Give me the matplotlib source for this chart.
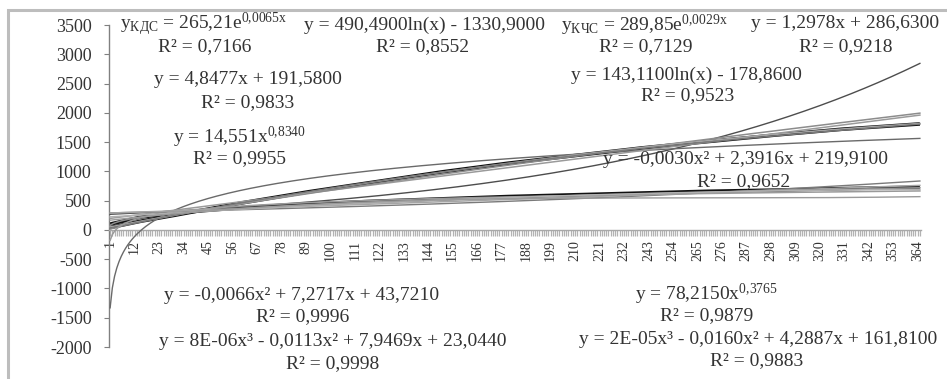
import numpy as np
import matplotlib
matplotlib.use("Agg")
import matplotlib.pyplot as plt
from matplotlib.patches import Rectangle

plt.rcParams["font.family"] = ["Liberation Serif", "DejaVu Serif"]
plt.rcParams["axes.unicode_minus"] = False
plt.rcParams["mathtext.fontset"] = "custom"
plt.rcParams["mathtext.rm"] = "Liberation Serif"

# ---- data -------------------------------------------------------------
days = np.arange(1, 366)

# cumulative observed series, sampled through the year
obs_days = [1, 15, 30, 60, 90, 120, 150, 180, 210, 240, 270, 300, 330, 365]
kds_values = [40, 150, 250, 460, 650, 820, 990, 1140, 1270, 1400, 1510, 1620, 1720, 1810]
kchs_values = [100, 220, 290, 380, 440, 490, 530, 570, 600, 630, 660, 680, 705, 730]

# trend line coefficients (КДС group)
kds_exp = [265.21, 0.0065]
kds_log = [490.49, -1330.9]
kds_lin = [4.8477, 191.58]
kds_pow = [14.551, 0.8340]
kds_poly2 = [-0.0066, 7.2717, 43.721]
kds_poly3 = [8e-06, -0.0113, 7.9469, 23.044]

# trend line coefficients (КЧС group)
kchs_exp = [289.85, 0.0029]
kchs_log = [143.11, -178.86]
kchs_lin = [1.2978, 286.63]
kchs_pow = [78.215, 0.3765]
kchs_poly2 = [-0.0030, 2.3916, 219.91]
kchs_poly3 = [2e-05, -0.0160, 4.2887, 161.81]

x_tick_labels = list(range(1, 366, 11))
y_ticks = list(range(-2000, 3501, 500))


def f_exp(c, x):
    return c[0] * np.exp(c[1] * x)


def f_log(c, x):
    return c[0] * np.log(x) + c[1]


def f_lin(c, x):
    return c[0] * x + c[1]


def f_pow(c, x):
    return c[0] * x ** c[1]


def f_poly(c, x):
    return np.polyval(c, x)


# ---- figure -----------------------------------------------------------
W, H = 947, 379
fig = plt.figure(figsize=(W / 100, H / 100), dpi=100)
fig.patch.set_facecolor("white")

# chart area border
fig.patches.append(Rectangle((8 / W, -0.1), 1.2, 1 - 10 / H + 0.1,
                             transform=fig.transFigure, fill=False,
                             ec="#bdbdbd", lw=2.2))

ax = fig.add_axes([109 / W, 1 - 347 / H, (921 - 109) / W, (347 - 25) / H])
ax.set_xlim(0.5, 365.5)
ax.set_ylim(-2000, 3500)

# observed series
ax.plot(obs_days, kds_values, color="#111111", lw=2.6, solid_capstyle="butt", zorder=2)
ax.plot(obs_days, kchs_values, color="#111111", lw=2.6, solid_capstyle="butt", zorder=2)

# trend lines
trends = [
    (f_exp(kds_exp, days), "#4d4d4d", 1.0),
    (f_log(kds_log, days), "#6a6a6a", 1.0),
    (f_lin(kds_lin, days), "#9a9a9a", 1.1),
    (f_pow(kds_pow, days), "#8c8c8c", 1.1),
    (f_poly(kds_poly2, days), "#a5a5a5", 1.1),
    (f_poly(kds_poly3, days), "#7a7a7a", 1.0),
    (f_exp(kchs_exp, days), "#7a7a7a", 1.0),
    (f_log(kchs_log, days), "#9a9a9a", 1.1),
    (f_lin(kchs_lin, days), "#a5a5a5", 1.1),
    (f_pow(kchs_pow, days), "#8c8c8c", 1.1),
    (f_poly(kchs_poly2, days), "#b0b0b0", 1.1),
    (f_poly(kchs_poly3, days), "#9a9a9a", 1.0),
]
for yv, col, lw in trends:
    ax.plot(days, yv, color=col, lw=lw, zorder=3)

# axes styling
for s in ("top", "right"):
    ax.spines[s].set_visible(False)
ax.spines["left"].set_color("#808080")
ax.spines["left"].set_linewidth(1.0)
ax.spines["bottom"].set_position(("data", 0))
ax.spines["bottom"].set_color("#a8a8a8")
ax.spines["bottom"].set_linewidth(1.0)

ax.set_yticks(y_ticks)
ax.set_yticklabels([str(v) for v in y_ticks])
ax.tick_params(axis="y", direction="out", length=3.5, width=0.8,
               color="#808080", pad=9, labelsize=13, labelcolor="#333333")

ax.set_xticks(x_tick_labels)
ax.set_xticklabels([str(v) for v in x_tick_labels])
ax.set_xticks(days, minor=True)
ax.tick_params(axis="x", which="both", direction="out", length=4.4,
               width=0.9, color="#b3b3b3")
ax.tick_params(axis="x", which="major", labelsize=10, labelrotation=90,
               pad=3, labelcolor="#333333")

# equation labels
TXT = dict(ha="center", va="center", fontsize=14, color="#333333")


def label(px, py, s):
    fig.text(px / W, 1 - py / H, s, **TXT)


label(204, 24, r"y$\mathregular{_{КДС}}$ = 265,21e$\mathregular{^{0{,}0065x}}$")
label(205, 47, "R² = 0,7166")
label(424, 25, "y = 490,4900ln(x) - 1330,9000")
label(423, 47, "R² = 0,8552")
label(644, 25, r"y$\mathregular{_{КЧС}}$ = 289,85e$\mathregular{^{0{,}0029x}}$")
label(646, 47, "R² = 0,7129")
label(845, 24, "y = 1,2978x + 286,6300")
label(846, 47, "R² = 0,9218")
label(686, 75, "y = 143,1100ln(x) - 178,8600")
label(688, 96, "R² = 0,9523")
label(248, 80, "y = 4,8477x + 191,5800")
label(248, 103, "R² = 0,9833")
label(239, 137, r"y = 14,551$\mathregular{x^{0{,}8340}}$")
label(239, 159, "R² = 0,9955")
label(745, 159, "y = -0,0030x² + 2,3916x + 219,9100")
label(744, 182, "R² = 0,9652")
label(302, 295, "y = -0,0066x² + 7,2717x + 43,7210")
label(303, 317, "R² = 0,9996")
label(333, 341, "y = 8E-06x³ - 0,0113x² + 7,9469x + 23,0440")
label(333, 364, "R² = 0,9998")
label(706, 294, r"y = 78,2150$\mathregular{x^{0{,}3765}}$")
label(707, 316, "R² = 0,9879")
label(758, 339, "y = 2E-05x³ - 0,0160x² + 4,2887x + 161,8100")
label(757, 361, "R² = 0,9883")

fig.savefig("out.png", dpi=100, facecolor="white")
